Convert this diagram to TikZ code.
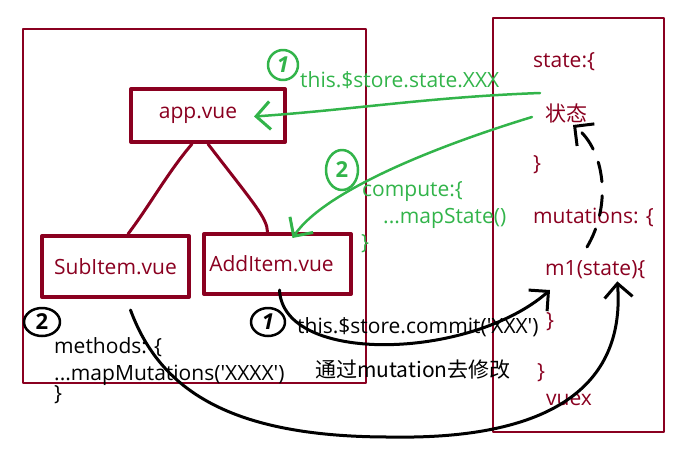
\documentclass[tikz,border=0pt]{standalone}
\usepackage{fontspec}
\setmainfont{Open Sans}
\newfontfamily\cjk{Noto Sans CJK SC}
\usepackage{tikz}
\usetikzlibrary{positioning, calc}
\usetikzlibrary{arrows.meta}
\usetikzlibrary{shapes.geometric}
\definecolor{vuered}{RGB}{138,0,32}
\definecolor{pengreen}{RGB}{50,180,74}

\begin{document}
\begin{tikzpicture}[x=1pt,y=-1pt,line cap=round,line join=round]
	\tikzstyle{frame}=[draw=vuered,line width=2pt]
	\tikzstyle{file-node}=[rectangle,draw=vuered,line width=4pt,text=vuered,inner sep=0pt]
	\tikzstyle{red-text}=[text=vuered,anchor=west,inner sep=0pt]
	\tikzstyle{green-text}=[text=pengreen,anchor=west,inner sep=0pt]
	\tikzstyle{black-text}=[text=black,anchor=west,inner sep=0pt]
	\tikzstyle{num}=[ellipse,draw,line width=2.5pt,inner sep=0pt,font=\fontsize{22}{24}\selectfont\bfseries]
	\tikzstyle{pen}=[line width=3pt,-{Straight Barb[length=14pt,width=28pt,line width=3pt]}]
	\tikzstyle{tree}=[draw=vuered,line width=3pt]
	\useasboundingbox (0,0) rectangle (676,453);
	\fontsize{21}{25}\selectfont

	% frames
	\draw[frame] (23,29) rectangle (366,383);
	\draw[frame] (493,18) rectangle (664,432);

	% components
	\node[file-node,minimum width=154pt,minimum height=53pt] (app) at (208,115.5) {app.vue\hspace*{20pt}};
	\node[file-node,minimum width=147pt,minimum height=61pt] (sub) at (115.5,266.5) {SubItem.vue};
	\node[file-node,minimum width=147pt,minimum height=60pt] (add) at (277.5,264) {AddItem.vue\hspace*{12pt}};

	\draw[tree] ($(app.south)+(-16,0)$) .. controls (168,172) and (150,205) .. ($(sub.north)+(12.5,0)$);
	\draw[tree] (app.south) .. controls (255,205) and (267,218) .. ($(add.north)+(-10,0)$);

	% vuex
	\node[red-text] (state) at (533,62) {state:\{};
	\node[red-text] (zt) at (545,113) {\cjk 状态};
	\node[red-text] (state-end) at (533,165) {\}};
	\node[red-text] (mut) at (533,217) {mutations: \{};
	\node[red-text] (m1) at (545,270) {m1(state)\{};
	\node[red-text] (m1-end) at (546,322) {\}};
	\node[red-text] (mut-end) at (537,373) {\}};
	\node[red-text] (vuex) at (546,400) {vuex};

	% read state
	\node[num,draw=pengreen,text=pengreen,minimum width=30pt,minimum height=30pt] (g1) at (283,65) {\itshape 1};
	\node[green-text] (read) at (300,80) {this.\$store.state.XXX};
	\node[num,draw=pengreen,text=pengreen,minimum width=32pt,minimum height=40pt] (g2) at (342,170) {2};
	\node[green-text] (compute) at (362,192) {compute:\{};
	\node[green-text] (mapstate) at (383,218) {...mapState()};
	\node[green-text] (compute-end) at (361,244) {\}};

	\coordinate (g1s) at (540,93);
	\coordinate (g2s) at (532,117);
	\draw[pen,draw=pengreen,line width=2.5pt] (g1s) .. controls (430,97) and (350,110) .. ($(app.east)+(-33,1)$);
	\draw[pen,draw=pengreen,line width=2.5pt] (g2s) .. controls (440,145) and (325,190) .. ($(add.north)+(15,6)$);

	% commit
	\node[num,minimum width=36pt,minimum height=28pt] (b2) at (42,322) {2};
	\node[black-text] (methods) at (54,347) {methods: \{};
	\node[black-text] (mapmut) at (54,375) {...mapMutations(\textquotesingle XXXX\textquotesingle)};
	\node[black-text] (methods-end) at (54,395) {\}};
	\node[num,minimum width=34pt,minimum height=28pt] (b1) at (268,322) {\itshape 1};
	\node[black-text] (commit) at (297,327) {this.\$store.commit(\textquotesingle XXX\textquotesingle)};
	\node[black-text] (via) at (315,370) {\cjk 通过mutation去修改};

	\coordinate (d0) at (587,247);
	\draw[pen,dash pattern=on 20pt off 14pt] (d0) .. controls (612,205) and (605,150) .. (573,125);
	\draw[pen] ($(add.south)+(2,-6)$) .. controls (283,365) and (470,360) .. ($(m1.west)+(5,20)$);
	\draw[pen] ($(sub.south)+(15,11)$) .. controls (160,390) and (230,437) .. (390,437)
		.. controls (560,440) and (625,380) .. ($(m1.south)+(22,2)$);
\end{tikzpicture}
\end{document}
